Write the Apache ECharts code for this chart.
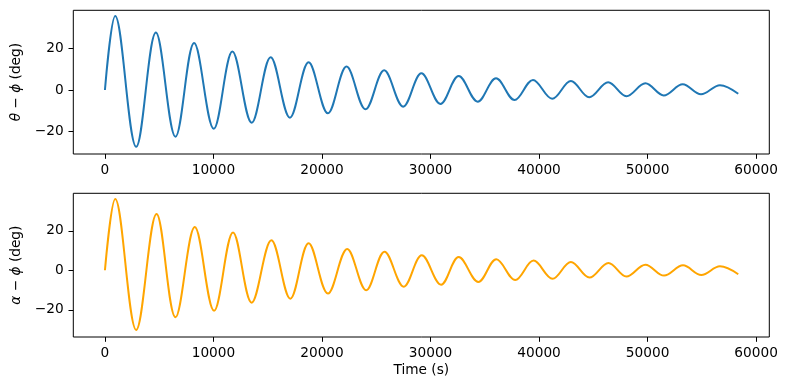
<!DOCTYPE html>
<html>
<head>
<meta charset="utf-8">
<script src="https://cdn.jsdelivr.net/npm/echarts@6/dist/echarts.min.js"></script>
<style>
html,body{margin:0;padding:0;background:#fff;}
#chart{width:788px;height:390px;}
</style>
</head>
<body>
<div id="chart"></div>
<script>
// Top panel: theta - phi (deg), read at start, extrema and end
const timeTop = [0, 948, 2882, 4692, 6500, 8219, 10028, 11745, 13524, 15271, 17047, 18767, 20546, 22263, 24011, 25731, 27479, 29163, 30911, 32597, 34345, 36036, 37746, 39439, 41214, 42935, 44618, 46366, 48050, 49798, 51490, 53238, 54922, 56670, 58353];
const thetaPhi = [0, 35.5, -27.2, 27.5, -22.4, 22.5, -18.6, 18.4, -15.7, 15.7, -13.3, 13.3, -11.2, 11.2, -9.3, 9.4, -8.0, 8.0, -6.7, 6.7, -5.6, 5.6, -4.8, 4.8, -4.2, 4.3, -3.5, 3.7, -3.0, 3.2, -2.6, 2.7, -2.1, 2.3, -1.8];

// Bottom panel: alpha - phi (deg)
const timeBottom = [0, 948, 2882, 4756, 6500, 8280, 10055, 11803, 13524, 15336, 17083, 18767, 20546, 22323, 24072, 25760, 27537, 29193, 30977, 32597, 34407, 36063, 37810, 39494, 41242, 42935, 44645, 46394, 48050, 49798, 51518, 53265, 54950, 56670, 58353];
const alphaPhi = [0, 36.1, -30.2, 28.5, -23.8, 21.9, -20.5, 19.2, -16.4, 15.2, -14.4, 13.7, -11.8, 10.8, -10.1, 9.4, -8.3, 7.6, -7.3, 6.7, -5.9, 5.6, -4.9, 4.9, -4.3, 4.2, -3.7, 3.7, -3.2, 2.8, -2.7, 2.5, -2.4, 2.0, -2.0];

const xTicks = [0, 10000, 20000, 30000, 40000, 50000, 60000];
const yTicks = [-20, 0, 20];

const FONT = 'DejaVu Sans';
const FS = 13.7;
const fmt = v => String(v).replace('-', '\u2212');

function xAxisCfg(gi, name) {
  return {
    type: 'value', gridIndex: gi, min: -2915, max: 61215,
    axisLine: {show: false, onZero: false}, splitLine: {show: false},
    axisTick: {show: true, inside: false, length: 4.8, customValues: xTicks, lineStyle: {color: '#000', width: 1}},
    axisLabel: {customValues: xTicks, margin: 9.6, color: '#000', fontSize: FS, fontFamily: FONT, formatter: fmt},
    name: name, nameLocation: 'middle', nameGap: 26,
    nameTextStyle: {color: '#000', fontSize: FS, fontFamily: FONT}
  };
}
function yAxisCfg(gi, min, max, sym) {
  return {
    type: 'value', gridIndex: gi, min: min, max: max,
    axisLine: {show: false, onZero: false}, splitLine: {show: false},
    axisTick: {show: true, inside: false, length: 4.8, customValues: yTicks, lineStyle: {color: '#000', width: 1}},
    axisLabel: {customValues: yTicks, margin: 9.6, color: '#000', fontSize: FS, fontFamily: FONT, formatter: fmt},
    name: '{i|' + sym + '} \u2212 {i|\u03D5} (deg)', nameLocation: 'middle', nameGap: 50, nameRotate: 90,
    nameTextStyle: {color: '#000', fontSize: FS, fontFamily: FONT,
      rich: {i: {fontStyle: 'italic', fontSize: FS, fontFamily: FONT, color: '#000'}}}
  };
}

const chart = echarts.init(document.getElementById('chart'), null, {renderer: 'canvas'});
chart.setOption({
  animation: false,
  backgroundColor: '#fff',
  grid: [
    {left: 73.3, top: 10.3, width: 696, height: 143.7, show: true, borderColor: '#000', borderWidth: 1, backgroundColor: 'transparent'},
    {left: 73.3, top: 193.3, width: 696, height: 143.7, show: true, borderColor: '#000', borderWidth: 1, backgroundColor: 'transparent'}
  ],
  xAxis: [xAxisCfg(0, ''), xAxisCfg(1, 'Time (s)')],
  yAxis: [yAxisCfg(0, -30.7, 38.2, '\u03B8'), yAxisCfg(1, -33.8, 39.0, '\u03B1')],
  series: [
    {type: 'line', xAxisIndex: 0, yAxisIndex: 0, data: timeTop.map((t, i) => [t, thetaPhi[i]]),
     showSymbol: false, smooth: 0.36, lineStyle: {color: '#1f77b4', width: 2}, itemStyle: {color: '#1f77b4'}},
    {type: 'line', xAxisIndex: 1, yAxisIndex: 1, data: timeBottom.map((t, i) => [t, alphaPhi[i]]),
     showSymbol: false, smooth: 0.36, lineStyle: {color: '#FFA500', width: 2}, itemStyle: {color: '#FFA500'}}
  ]
});
</script>
</body>
</html>
